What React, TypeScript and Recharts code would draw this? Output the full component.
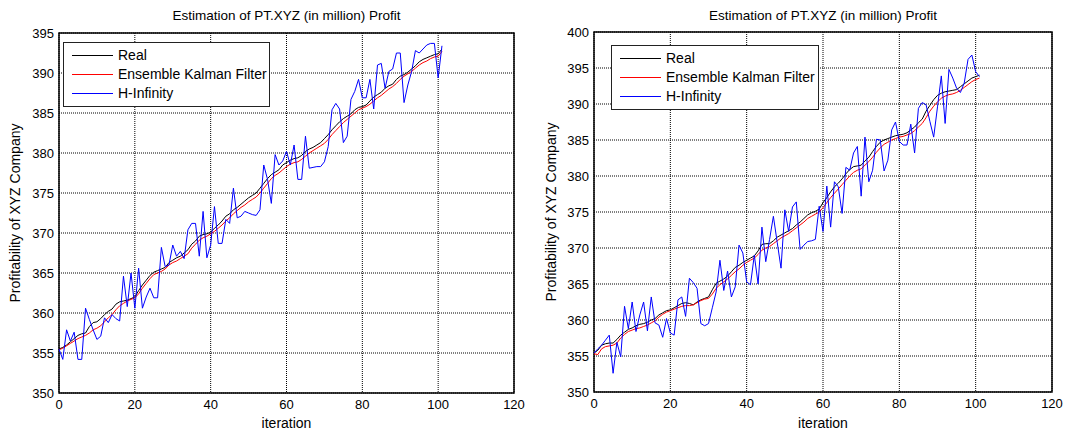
import React from 'react';
import {
  LineChart,
  Line,
  XAxis,
  YAxis,
  CartesianGrid,
  ReferenceArea,
  Legend,
} from 'recharts';

// iteration 0..101 for each series
const leftReal = [
  355.5, 355.7, 356.0, 356.4, 356.8, 357.2, 357.4, 357.5, 358.3, 358.8, 358.9, 359.3, 359.8, 360.2, 360.5, 361.1, 361.4, 361.5, 361.6, 361.8,
  362.0, 362.8, 363.5, 364.1, 364.7, 365.1, 365.3, 365.5, 365.7, 366.3, 366.6, 366.9, 367.1, 367.5, 367.9, 368.6, 369.0, 369.6, 369.8, 369.9,
  370.1, 370.6, 371.0, 371.5, 372.1, 372.4, 372.9, 373.2, 373.6, 374.0, 374.4, 374.7, 375.0, 375.6, 376.2, 376.8, 377.3, 377.6, 377.9, 378.5,
  378.8, 379.1, 379.3, 379.4, 379.7, 380.2, 380.5, 380.7, 381.0, 381.3, 381.8, 382.3, 382.9, 383.4, 383.9, 384.3, 384.6, 384.9, 385.4, 385.7,
  385.8, 386.0, 386.5, 387.0, 387.3, 387.6, 388.1, 388.4, 388.6, 389.2, 389.6, 389.8, 390.1, 390.5, 390.9, 391.4, 391.7, 391.9, 392.1, 392.3,
  392.4, 393.0,
];
const leftEnkf = [
  355.4, 355.6, 355.9, 356.2, 356.5, 356.8, 357.0, 357.2, 357.5, 357.9, 358.1, 358.4, 358.9, 359.4, 359.8, 360.4, 360.9, 361.2, 361.5, 361.7,
  361.9, 362.4, 363.1, 363.7, 364.3, 364.8, 365.0, 365.2, 365.5, 366.0, 366.3, 366.5, 366.8, 367.1, 367.4, 368.1, 368.6, 369.1, 369.4, 369.6,
  369.9, 370.2, 370.6, 371.0, 371.5, 371.9, 372.4, 372.8, 373.2, 373.5, 373.9, 374.2, 374.5, 375.0, 375.6, 376.2, 376.8, 377.2, 377.5, 377.9,
  378.3, 378.6, 378.8, 378.9, 379.2, 379.6, 380.0, 380.3, 380.6, 380.9, 381.2, 381.7, 382.3, 382.8, 383.3, 383.8, 384.2, 384.6, 385.0, 385.4,
  385.6, 385.8, 386.1, 386.5, 386.9, 387.2, 387.6, 388.0, 388.3, 388.7, 389.2, 389.6, 389.9, 390.2, 390.6, 391.0, 391.3, 391.5, 391.8, 392.0,
  392.1, 392.7,
];
const leftHinf = [
  355.5, 354.2, 357.9, 356.5, 357.6, 354.2, 354.2, 360.6, 359.2, 357.9, 356.7, 357.1, 359.4, 358.8, 359.8, 359.3, 359.0, 364.6, 360.8, 365.0,
  360.6, 365.6, 360.6, 362.0, 363.1, 361.9, 361.9, 368.2, 365.8, 366.0, 368.5, 367.1, 367.7, 366.8, 370.4, 371.2, 371.2, 367.1, 372.7, 366.9,
  368.5, 373.3, 368.7, 368.7, 371.7, 371.2, 375.6, 371.9, 372.1, 372.7, 372.5, 372.3, 372.2, 372.9, 378.5, 376.7, 373.7, 379.8, 378.5, 379.0,
  380.2, 378.5, 381.0, 376.7, 376.7, 382.1, 378.1, 378.2, 378.3, 378.3, 378.9, 380.8, 385.4, 386.2, 385.5, 381.3, 382.1, 386.7, 387.7, 389.2,
  386.9, 386.9, 389.2, 385.5, 391.0, 391.2, 388.1, 390.2, 390.5, 392.5, 392.5, 386.3, 388.5, 390.2, 392.8, 392.5, 393.0, 393.5, 393.7, 393.7,
  389.4, 393.4,
];

const rightReal = [
  355.4, 355.8, 356.5, 356.7, 356.8, 356.8, 357.3, 357.9, 358.3, 358.7, 358.9, 359.2, 359.4, 359.5, 359.7, 360.0, 360.2, 360.7, 361.0, 361.3,
  361.4, 361.7, 362.0, 362.3, 362.4, 362.3, 362.1, 362.5, 362.8, 363.0, 363.2, 364.2, 365.1, 365.4, 365.7, 366.1, 366.7, 367.3, 367.6, 368.0,
  368.3, 368.6, 368.9, 369.6, 370.5, 370.6, 370.6, 371.0, 371.5, 371.8, 372.1, 372.4, 372.7, 373.2, 373.6, 374.1, 374.6, 374.9, 375.1, 375.4,
  376.3, 377.0, 377.8, 378.5, 379.0, 379.6, 380.3, 380.9, 381.3, 381.4, 381.5, 382.1, 382.6, 383.4, 384.1, 384.7, 385.0, 385.2, 385.4, 385.6,
  385.7, 385.8, 386.0, 386.4, 386.8, 387.4, 387.9, 389.0, 389.8, 390.6, 391.2, 391.5, 391.7, 391.8, 391.9, 392.0, 392.4, 392.8, 393.2, 393.6,
  393.8, 394.0,
];
const rightEnkf = [
  355.3, 355.2, 356.0, 356.3, 356.4, 356.5, 356.8, 357.5, 358.0, 358.4, 358.6, 358.8, 358.9, 359.1, 359.3, 359.6, 359.9, 360.4, 360.8, 361.1,
  361.3, 361.5, 361.7, 361.9, 362.0, 362.0, 362.1, 362.4, 362.7, 362.9, 363.0, 363.6, 364.4, 364.9, 365.3, 365.7, 366.2, 366.7, 367.1, 367.6,
  368.0, 368.3, 368.6, 369.1, 369.7, 370.0, 370.2, 370.6, 371.0, 371.4, 371.7, 372.0, 372.4, 372.8, 373.2, 373.6, 374.1, 374.4, 374.7, 375.0,
  375.6, 376.3, 377.0, 377.6, 378.2, 378.8, 379.4, 380.0, 380.5, 380.8, 381.0, 381.5, 382.0, 382.6, 383.3, 383.9, 384.4, 384.7, 385.0, 385.2,
  385.4, 385.5, 385.7, 385.9, 386.3, 386.8, 387.3, 388.1, 389.0, 389.7, 390.3, 390.8, 391.1, 391.3, 391.4, 391.6, 391.9, 392.3, 392.7, 393.1,
  393.4, 393.6,
];
const rightHinf = [
  355.4, 356.0, 356.5, 357.2, 357.9, 352.6, 356.9, 354.9, 361.9, 358.8, 362.5, 358.4, 360.7, 362.5, 358.5, 363.2, 359.6, 359.3, 357.6, 360.2,
  358.2, 357.9, 362.8, 363.2, 360.5, 365.8, 365.2, 364.4, 359.5, 359.2, 359.5, 361.7, 363.9, 368.3, 364.1, 366.8, 363.2, 364.6, 370.4, 369.3,
  365.3, 364.9, 369.0, 365.0, 372.9, 368.1, 371.2, 374.4, 370.8, 367.2, 375.3, 372.3, 375.7, 376.4, 369.8, 370.4, 370.9, 371.0, 371.2, 375.8,
  372.3, 378.6, 372.9, 379.2, 378.5, 374.8, 381.2, 380.8, 383.2, 384.1, 377.2, 385.4, 379.2, 380.8, 385.1, 385.0, 380.7, 382.2, 386.4, 387.5,
  384.8, 384.3, 384.3, 387.2, 383.2, 389.4, 390.2, 389.9, 387.6, 385.4, 389.6, 393.9, 387.3, 394.8, 393.6, 392.2, 391.6, 392.9, 396.2, 396.8,
  394.5, 393.8,
];

const xTicks = [0, 20, 40, 60, 80, 100, 120];
const leftYTicks = [350, 355, 360, 365, 370, 375, 380, 385, 390, 395];
const rightYTicks = [350, 355, 360, 365, 370, 375, 380, 385, 390, 395, 400];

const titleText = 'Estimation of PT.XYZ (in million) Profit';
const yLabelText = 'Profitability of XYZ Company';
const xLabelText = 'iteration';

const seriesNames = ['Real', 'Ensemble Kalman Filter', 'H-Infinity'];
const seriesColors = ['#000000', '#ff0000', '#0000ff'];

const FONT = '"Liberation Sans", Arial, sans-serif';

function buildRows(real: number[], enkf: number[], hinf: number[]) {
  return real.map((v, i) => ({ x: i, real: v, enkf: enkf[i], hinf: hinf[i] }));
}

function MatlabLegend({ width }: { width: number }) {
  return (
    <div
      style={{
        background: '#fff',
        border: '1.5px solid #222',
        boxSizing: 'border-box',
        width,
        padding: '3px 0 3px 8px',
        fontFamily: FONT,
        fontSize: 14,
        color: '#000',
        lineHeight: '19px',
      }}
    >
      {seriesNames.map((name, i) => (
        <div key={name} style={{ display: 'flex', alignItems: 'center', whiteSpace: 'nowrap' }}>
          <svg width={41} height={19} style={{ marginRight: 5, flex: 'none' }}>
            <line x1={0} x2={41} y1={9.5} y2={9.5} stroke={seriesColors[i]} strokeWidth={1} />
          </svg>
          <span>{name}</span>
        </div>
      ))}
    </div>
  );
}

interface PanelProps {
  rows: any[];
  yTicks: number[];
  yMax: number;
  width: number;
  margin: { top: number; right: number; bottom: number; left: number };
  yAxisWidth: number;
  xAxisHeight: number;
  legendPos: { left: number; top: number; width: number };
  yLabelOffset: number;
}

function Panel({ rows, yTicks, yMax, width, margin, yAxisWidth, xAxisHeight, legendPos, yLabelOffset }: PanelProps) {
  const plotLeft = margin.left + yAxisWidth;
  const plotRight = width - margin.right;
  return (
    <div style={{ position: 'relative', width, height: 432 }}>
      <div
        style={{
          position: 'absolute',
          left: plotLeft,
          width: plotRight - plotLeft,
          top: 8,
          textAlign: 'center',
          fontFamily: FONT,
          fontSize: 13.5,
          color: '#000',
        }}
      >
        {titleText}
      </div>
      <LineChart width={width} height={432} data={rows} margin={margin}>
        <CartesianGrid stroke="#000" strokeDasharray="1 1" strokeWidth={1} verticalValues={xTicks} horizontalValues={yTicks} />
        <XAxis
          type="number"
          dataKey="x"
          domain={[0, 120]}
          ticks={xTicks}
          height={xAxisHeight}
          axisLine={false}
          tickLine={false}
          tickSize={5}
          tickMargin={2}
          tick={{ fill: '#000', fontSize: 13, fontFamily: FONT }}
          label={{ value: xLabelText, position: 'insideBottom', offset: 4, fill: '#000', fontSize: 14, fontFamily: FONT }}
        />
        <YAxis
          type="number"
          domain={[350, yMax]}
          ticks={yTicks}
          width={yAxisWidth}
          axisLine={false}
          tickLine={false}
          tickSize={3}
          tickMargin={2}
          tick={{ fill: '#000', fontSize: 13, fontFamily: FONT }}
          label={{
            value: yLabelText,
            angle: -90,
            position: 'insideLeft',
            offset: yLabelOffset,
            fill: '#000',
            fontSize: 14,
            fontFamily: FONT,
            style: { textAnchor: 'middle' },
          }}
        />
        <ReferenceArea x1={0} x2={120} y1={350} y2={yMax} fill="none" stroke="#000" strokeWidth={1.5} ifOverflow="visible" />
        <Line type="linear" dataKey="real" name={seriesNames[0]} stroke={seriesColors[0]} strokeWidth={1} dot={false} isAnimationActive={false} />
        <Line type="linear" dataKey="enkf" name={seriesNames[1]} stroke={seriesColors[1]} strokeWidth={1} dot={false} isAnimationActive={false} />
        <Line type="linear" dataKey="hinf" name={seriesNames[2]} stroke={seriesColors[2]} strokeWidth={1} dot={false} isAnimationActive={false} />
        <Legend
          layout="vertical"
          align="center"
          verticalAlign="middle"
          wrapperStyle={{ left: legendPos.left, top: legendPos.top, width: 'auto' }}
          content={() => <MatlabLegend width={legendPos.width} />}
        />
      </LineChart>
    </div>
  );
}

export default function App() {
  const leftRows = buildRows(leftReal, leftEnkf, leftHinf);
  const rightRows = buildRows(rightReal, rightEnkf, rightHinf);
  return (
    <div style={{ position: 'absolute', left: 0, top: 0, width: 1067, height: 432, background: '#fff', display: 'flex' }}>
      <Panel
        rows={leftRows}
        yTicks={leftYTicks}
        yMax={395}
        width={533}
        margin={{ top: 33, right: 19, bottom: 0, left: 0 }}
        yAxisWidth={59}
        xAxisHeight={39}
        legendPos={{ left: 63, top: 42, width: 207 }}
        yLabelOffset={15}
      />
      <Panel
        rows={rightRows}
        yTicks={rightYTicks}
        yMax={400}
        width={534}
        margin={{ top: 32, right: 15, bottom: 0, left: 0 }}
        yAxisWidth={61}
        xAxisHeight={40}
        legendPos={{ left: 78, top: 45, width: 208 }}
        yLabelOffset={18}
      />
    </div>
  );
}
